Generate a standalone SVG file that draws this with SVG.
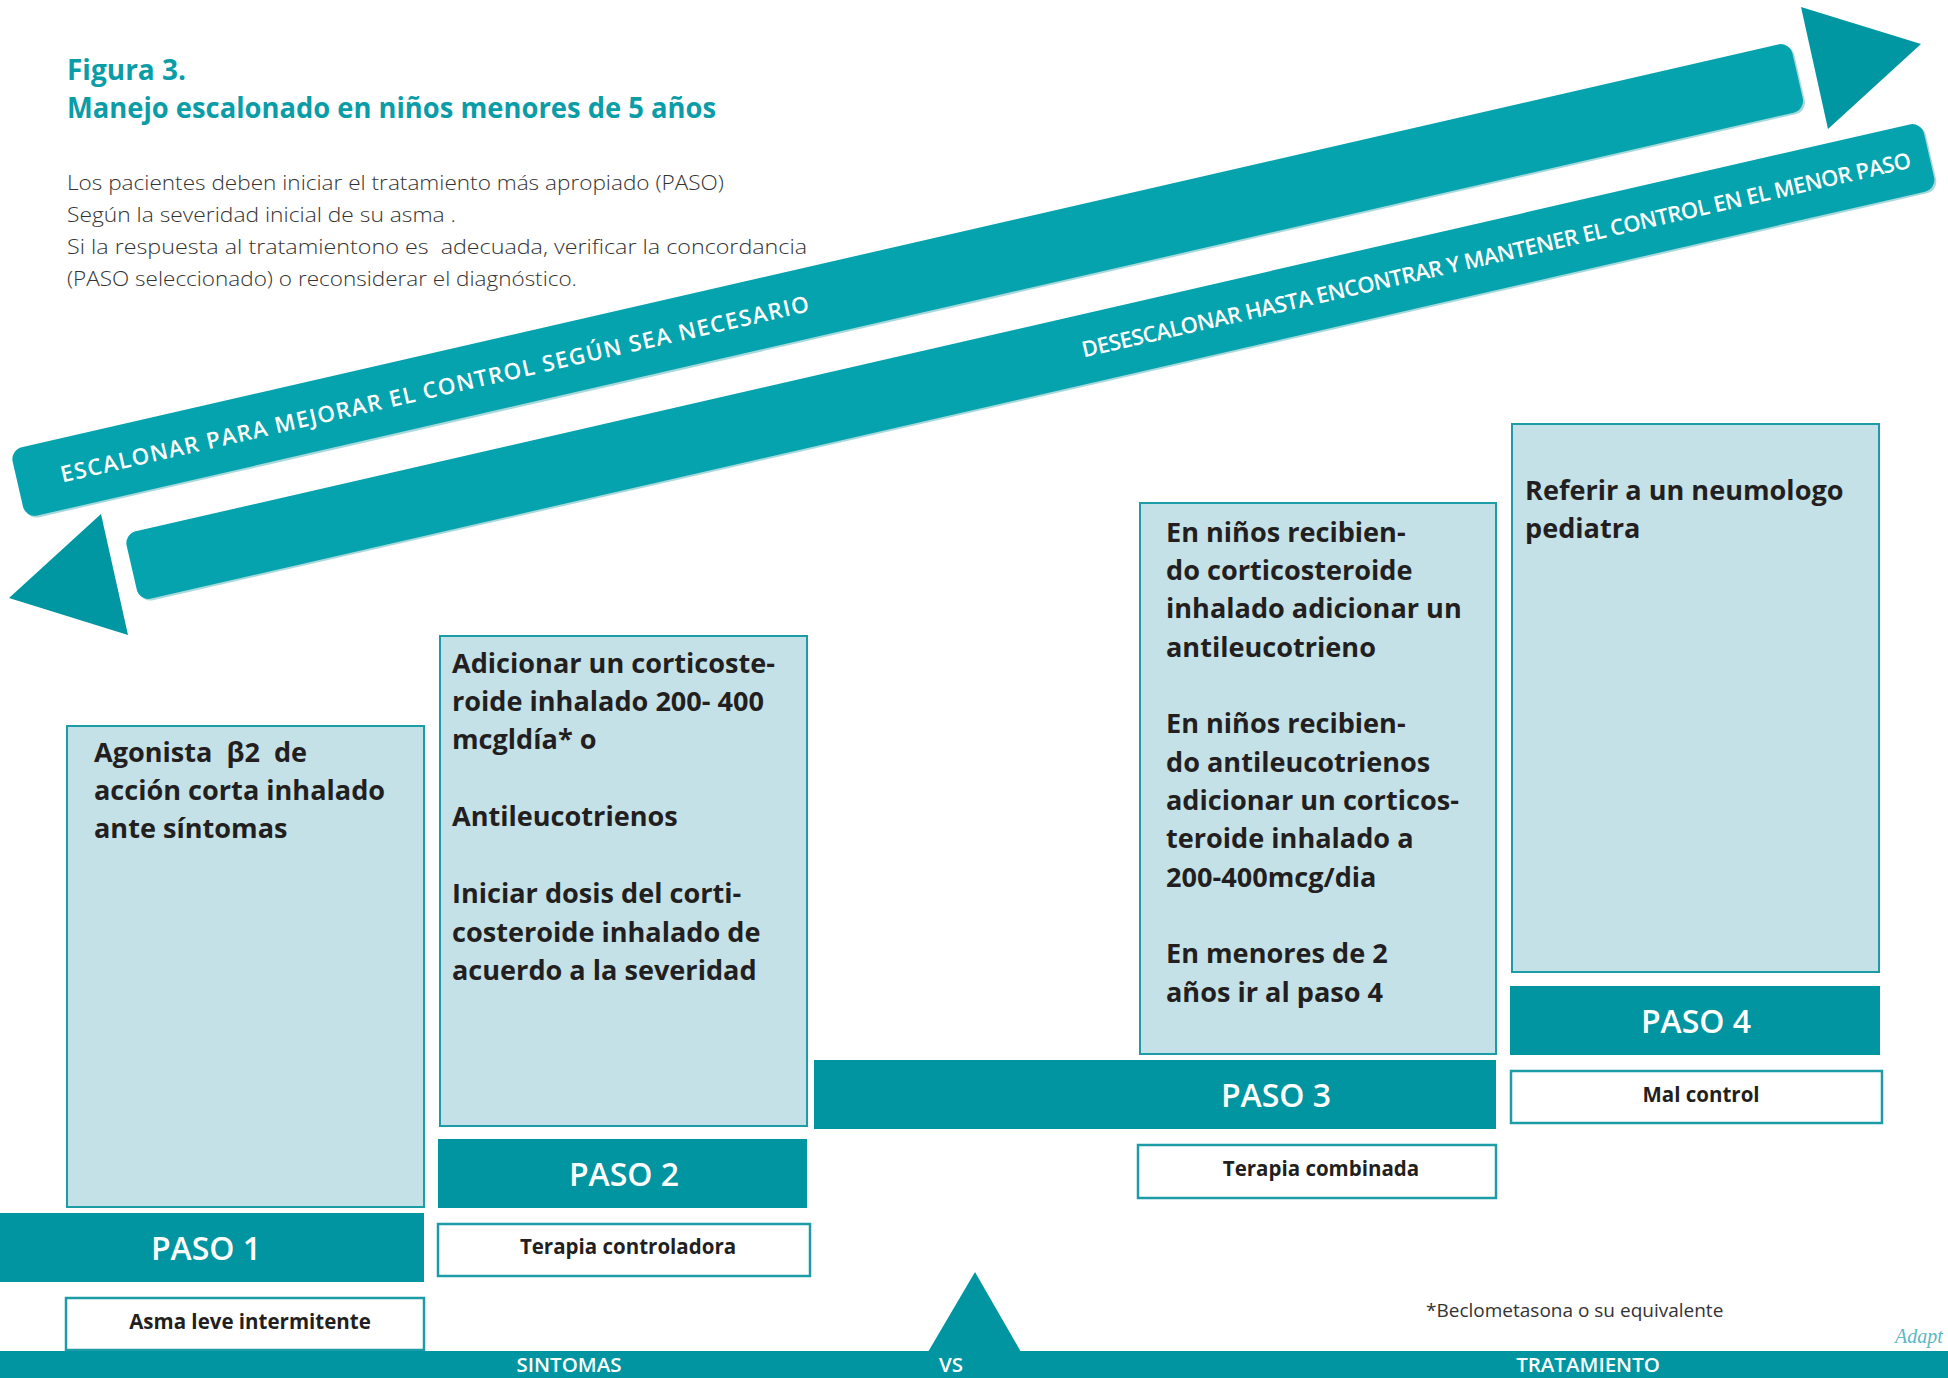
<svg xmlns="http://www.w3.org/2000/svg" width="1948" height="1378" viewBox="0 0 1948 1378">
<style>
.band{fill:#04A3AE}
.bandsh{fill:#0A8E98;opacity:0.35}
.head{fill:#0096A2}
.bar{fill:#0095A1}
.lbox{fill:#C4E1E7;stroke:#1C9CA7;stroke-width:2}
.wbox{fill:#FFFFFF;stroke:#1C9CA7;stroke-width:2.5}
text{font-family:"Open Sans","Liberation Sans",sans-serif}
.title{font-size:28px;font-weight:700;fill:#0A9DA8}
.intro{font-size:21px;font-weight:300;fill:#333333;white-space:pre}
.bandt{font-size:22.5px;font-weight:600;fill:#FFFFFF}
.bt{font-size:27.1px;font-weight:700;fill:#231F20;white-space:pre}
.paso{font-size:32px;font-weight:600;fill:#FFFFFF;text-anchor:middle}
.lab{font-size:20.5px;font-weight:700;fill:#231F20;text-anchor:middle}
.axis{font-size:20.5px;font-weight:600;fill:#FFFFFF;text-anchor:middle}
.foot{font-size:19px;font-weight:400;fill:#333333}
.adapt{font-family:"Liberation Serif",serif;font-style:italic;font-size:20px;fill:#5BB8C4}
</style>

<g id="title">
  <text class="title" x="67" y="80">Figura 3.</text>
  <text class="title" x="67" y="118" textLength="649" lengthAdjust="spacingAndGlyphs">Manejo escalonado en niños menores de 5 años</text>
</g>

<g id="intro">
  <text class="intro" x="67" y="190" textLength="657" lengthAdjust="spacingAndGlyphs">Los pacientes deben iniciar el tratamiento más apropiado (PASO)</text>
  <text class="intro" x="67" y="222" textLength="389" lengthAdjust="spacingAndGlyphs">Según la severidad inicial de su asma .</text>
  <text class="intro" x="67" y="254" textLength="740" lengthAdjust="spacingAndGlyphs">Si la respuesta al tratamientono es  adecuada, verificar la concordancia</text>
  <text class="intro" x="67" y="286" textLength="510" lengthAdjust="spacingAndGlyphs">(PASO seleccionado) o reconsiderar el diagnóstico.</text>
</g>

<g id="connectors">
  <g id="band-up" transform="translate(10,450) rotate(-12.92)">
    <rect class="bandsh" x="1.5" y="2" width="1826" height="70" rx="12"/>
    <rect class="band" x="0" y="0" width="1826" height="70" rx="12"/>
    <text class="bandt" x="44" y="43.5" textLength="767" lengthAdjust="spacing">ESCALONAR PARA MEJORAR EL CONTROL SEGÚN SEA NECESARIO</text>
  </g>
  <polygon id="head-up" class="head" points="1801,7 1921,44 1828,129"/>
  <g id="band-down" transform="translate(124,534) rotate(-12.92)">
    <rect class="bandsh" x="1.5" y="2" width="1844" height="69" rx="12"/>
    <rect class="band" x="0" y="0" width="1844" height="69" rx="12"/>
    <text class="bandt" x="975" y="42.5" textLength="850" lengthAdjust="spacing" style="font-size:22px">DESESCALONAR HASTA ENCONTRAR Y MANTENER EL CONTROL EN EL MENOR PASO</text>
  </g>
  <polygon id="head-down" class="head" points="101,514 9,598 128,635"/>
</g>

<g id="paso1">
  <rect class="lbox" x="67" y="726" width="357" height="481"/>
  <text class="bt" x="94" y="762">Agonista  β2  de</text>
  <text class="bt" x="94" y="800">acción corta inhalado</text>
  <text class="bt" x="94" y="838">ante síntomas</text>
  <rect class="bar" x="0" y="1213" width="424" height="69"/>
  <text class="paso" x="206" y="1260">PASO 1</text>
  <rect class="wbox" x="66" y="1298" width="358" height="52"/>
  <text class="lab" x="250" y="1329">Asma leve intermitente</text>
</g>

<g id="paso2">
  <rect class="lbox" x="440" y="636" width="367" height="490"/>
  <text class="bt" x="452" y="673">Adicionar un corticoste-</text>
  <text class="bt" x="452" y="711">roide inhalado 200- 400</text>
  <text class="bt" x="452" y="749">mcgldía* o</text>
  <text class="bt" x="452" y="826">Antileucotrienos</text>
  <text class="bt" x="452" y="903">Iniciar dosis del corti-</text>
  <text class="bt" x="452" y="942">costeroide inhalado de</text>
  <text class="bt" x="452" y="980">acuerdo a la severidad</text>
  <rect class="bar" x="438" y="1139" width="369" height="69"/>
  <text class="paso" x="624" y="1186">PASO 2</text>
  <rect class="wbox" x="438" y="1224" width="372" height="52"/>
  <text class="lab" x="628" y="1254">Terapia controladora</text>
</g>

<g id="paso3">
  <rect class="lbox" x="1140" y="503" width="356" height="551"/>
  <text class="bt" x="1166" y="542">En niños recibien-</text>
  <text class="bt" x="1166" y="580">do corticosteroide</text>
  <text class="bt" x="1166" y="618">inhalado adicionar un</text>
  <text class="bt" x="1166" y="657">antileucotrieno</text>
  <text class="bt" x="1166" y="733">En niños recibien-</text>
  <text class="bt" x="1166" y="772">do antileucotrienos</text>
  <text class="bt" x="1166" y="810">adicionar un corticos-</text>
  <text class="bt" x="1166" y="848">teroide inhalado a</text>
  <text class="bt" x="1166" y="887">200-400mcg/dia</text>
  <text class="bt" x="1166" y="963">En menores de 2</text>
  <text class="bt" x="1166" y="1002">años ir al paso 4</text>
  <rect class="bar" x="814" y="1060" width="682" height="69"/>
  <text class="paso" x="1276" y="1107">PASO 3</text>
  <rect class="wbox" x="1138" y="1145" width="358" height="53"/>
  <text class="lab" x="1321" y="1176">Terapia combinada</text>
</g>

<g id="paso4">
  <rect class="lbox" x="1512" y="424" width="367" height="548"/>
  <text class="bt" x="1525" y="500">Referir a un neumologo</text>
  <text class="bt" x="1525" y="538">pediatra</text>
  <rect class="bar" x="1510" y="986" width="370" height="69"/>
  <text class="paso" x="1696" y="1033">PASO 4</text>
  <rect class="wbox" x="1511" y="1071" width="371" height="52"/>
  <text class="lab" x="1701" y="1102">Mal control</text>
</g>

<g id="footnote">
  <text class="foot" x="1426" y="1317">*Beclometasona o su equivalente</text>
  <text class="adapt" x="1895" y="1343">Adapt</text>
</g>

<g id="axis">
  <rect class="bar" x="0" y="1351" width="1948" height="27"/>
  <polygon class="bar" points="928,1352 975,1272 1021,1352"/>
  <text class="axis" x="569" y="1372">SINTOMAS</text>
  <text class="axis" x="951" y="1372">VS</text>
  <text class="axis" x="1588" y="1372">TRATAMIENTO</text>
</g>
</svg>
